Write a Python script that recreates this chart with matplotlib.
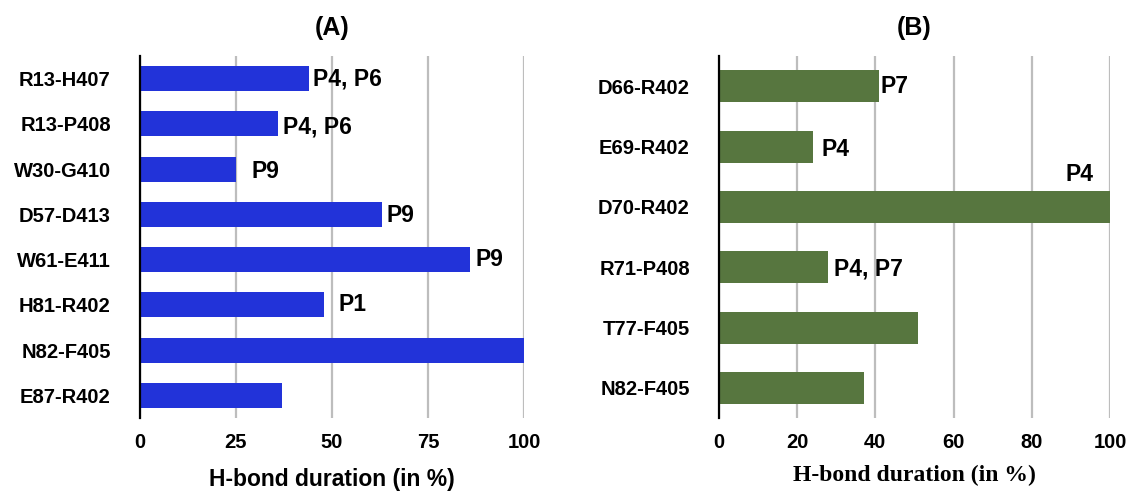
import matplotlib.pyplot as plt
import numpy as np

# panel A
pairs_a = ['R13-H407', 'R13-P408', 'W30-G410', 'D57-D413',
           'W61-E411', 'H81-R402', 'N82-F405', 'E87-R402']
dur_a = [44, 36, 25, 63, 86, 48, 100, 37]
tags_a = ['P4, P6', 'P4, P6', 'P9', 'P9', 'P9', 'P1', '', '']

# panel B
pairs_b = ['D66-R402', 'E69-R402', 'D70-R402', 'R71-P408', 'T77-F405', 'N82-F405']
dur_b = [41, 24, 100, 28, 51, 37]
tags_b = ['P7', 'P4', 'P4', 'P4, P7', '', '']

# label offsets (points) from bar end
off_a = [(3, 0), (3.5, -2), (11, -2), (3.5, -1), (4, 0), (10, 0), (0, 0), (0, 0)]
off_b = [(1, 0), (6, -2), (-12, 23), (4, -1), (0, 0), (0, 0)]

BLUE = '#2233d9'
GREEN = '#57763f'
SANS = 'Liberation Sans'
SERIF = 'Liberation Serif'

fig = plt.figure(figsize=(11.28, 4.94), dpi=100)
ax_a = fig.add_axes([0.1241, 0.1538, 0.3404, 0.7328])
ax_b = fig.add_axes([0.6374, 0.1538, 0.3466, 0.7328])


def style(ax, n, ticks):
    ax.set_ylim(n - 0.5, -0.5)
    ax.set_xlim(0, 100)
    ax.set_xticks(ticks)
    for s in ['top', 'right', 'bottom']:
        ax.spines[s].set_visible(False)
    ax.spines['left'].set_linewidth(1.6)
    ax.spines['left'].set_zorder(4)
    ax.tick_params(length=0)
    ax.tick_params(axis='x', pad=11)
    ax.tick_params(axis='y', pad=21)
    for t in ax.get_xticklabels() + ax.get_yticklabels():
        t.set_fontfamily(SANS)
        t.set_fontweight('bold')
        t.set_fontsize(14.5)
    ax.set_axisbelow(True)
    ax.grid(axis='x', color='#bdbdbd', linewidth=1.6)
    ax.grid(axis='y', visible=False)


ya = np.arange(len(pairs_a))
ax_a.barh(ya, dur_a, height=0.55, color=BLUE)
ax_a.set_yticks(ya, pairs_a)
style(ax_a, len(pairs_a), [0, 25, 50, 75, 100])
for y, v, t, o in zip(ya, dur_a, tags_a, off_a):
    if t:
        ax_a.annotate(t, (v, y), xytext=o, textcoords='offset points',
                      ha='left', va='center', fontsize=16.5, fontweight='bold',
                      family=SANS, annotation_clip=False)
ax_a.set_title('(A)', fontsize=18, fontweight='bold', family=SANS, pad=15)
ax_a.set_xlabel('H-bond duration (in %)', fontsize=16.5, fontweight='bold',
                family=SANS, labelpad=11)

yb = np.arange(len(pairs_b))
ax_b.barh(yb, dur_b, height=0.53, color=GREEN)
ax_b.set_yticks(yb, pairs_b)
style(ax_b, len(pairs_b), [0, 20, 40, 60, 80, 100])
for y, v, t, o in zip(yb, dur_b, tags_b, off_b):
    if t:
        ax_b.annotate(t, (v, y), xytext=o, textcoords='offset points',
                      ha='right' if o[0] < 0 else 'left', va='center',
                      fontsize=16.5, fontweight='bold', family=SANS,
                      annotation_clip=False)
ax_b.set_title('(B)', fontsize=18, fontweight='bold', family=SANS, pad=15)
ax_b.set_xlabel('H-bond duration (in %)', fontsize=17, fontweight='bold',
                family=SERIF, labelpad=9)

fig.savefig('out.png', dpi=100)
